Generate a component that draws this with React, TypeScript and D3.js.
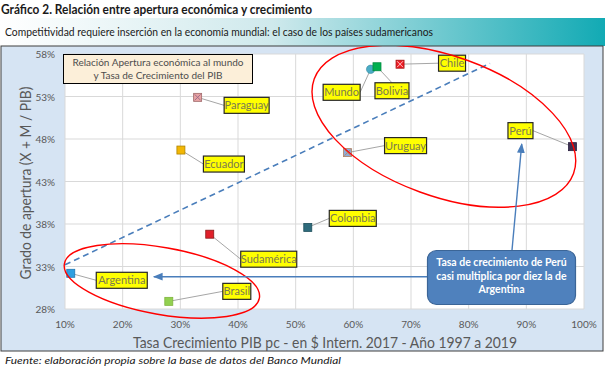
import React from 'react';
import * as d3 from 'd3';

// datos
const countries = ['Argentina', 'Brasil', 'Sudamérica', 'Colombia', 'Ecuador', 'Paraguay', 'Uruguay', 'Mundo', 'Bolivia', 'Chile', 'Perú'];
const growth = [11.0, 28.0, 35.1, 52.1, 30.1, 33.0, 59.0, 63.0, 64.1, 68.1, 98.0];
const openness = [32.2, 28.9, 36.8, 37.6, 46.7, 52.9, 46.4, 56.2, 56.5, 56.8, 47.1];
const xTicks = [10, 20, 30, 40, 50, 60, 70, 80, 90, 100];
const yTicks = [28, 33, 38, 43, 48, 53, 58];
const trendX = [10, 83.7];
const trendY = [33.2, 56.9];

// estilos de marcadores
const markerFill = ['#2f9fe0', '#92d050', '#e0202a', '#2e6b7c', '#f2b705', '#e8a3a3', '#8eaadb', '#4bacc6', '#00b050', '#ee1c25', '#3f3151'];
const markerStroke = ['#1f78b4', '#7fb43c', '#8b1a1a', '#1e4f5c', '#b08400', '#a06a6a', '#b08060', '#3a8ca0', '#008a3e', '#a01010', '#2a2040'];
// desplazamiento de etiquetas (px) desde el punto: dx, dy del centro, ancho
const labelDx = [51, 68, 59, 45, 43, 49, 58, -29, 15, 52, -52];
const labelDy = [7, -10, 25, -9, 14, 8, -7, 23, 24, -1, -16];
const labelW = [51, 28, 56, 47, 41, 45, 42, 37, 34, 27, 25];

const W = 605;
const H = 371;
const font = 'Lato, "Open Sans", sans-serif';

export default function App() {
  const x = d3.scaleLinear().domain([10, 100]).range([65, 584]);
  const y = d3.scaleLinear().domain([28, 58]).range([309, 54]);
  const trend = d3.line<number>().x((d) => x(trendX[d])).y((d) => y(trendY[d]));

  const labelH = 16;

  return (
    <svg width={W} height={H} style={{ position: 'absolute', left: 0, top: 0, background: '#fff' }} fontFamily={font}>
      <defs>
        <linearGradient id="banner" x1="0" x2="1" y1="0" y2="0">
          <stop offset="0%" stopColor="#ffffff" />
          <stop offset="45%" stopColor="#cfe9ec" />
          <stop offset="100%" stopColor="#12aab4" />
        </linearGradient>
        <marker id="arrow" viewBox="0 0 10 10" refX="9" refY="5" markerWidth="7" markerHeight="7" orient="auto-start-reverse">
          <path d="M0,1 L10,5 L0,9 z" fill="#4a7ebb" />
        </marker>
        <clipPath id="frameClip">
          <rect x={1} y={46} width={602} height={305} />
        </clipPath>
      </defs>

      {/* titulo */}
      <text x={1} y={14} fontSize={14} fontWeight="bold" fill="#1a1a1a" textLength={311} lengthAdjust="spacingAndGlyphs">
        Gráfico 2. Relación entre apertura económica y crecimiento
      </text>
      <rect x={0} y={18} width={605} height={28} fill="url(#banner)" />
      <text x={5} y={36} fontSize={11.5} fill="#1a1a1a" textLength={428} lengthAdjust="spacingAndGlyphs">
        Competitividad requiere inserción en la economía mundial: el caso de los países sudamericanos
      </text>

      {/* marco */}
      <rect x={1} y={46} width={602} height={305} fill="#d6e4f3" stroke="#3f3f3f" />

      {/* area de trazado */}
      <rect x={x(10)} y={y(58)} width={x(100) - x(10)} height={y(28) - y(58)} fill="#ffffff" />
      {xTicks.map((t) => (
        <line key={'gx' + t} x1={x(t)} x2={x(t)} y1={y(28)} y2={y(58)} stroke="#d9d9d9" />
      ))}
      {yTicks.map((t) => (
        <line key={'gy' + t} x1={x(10)} x2={x(100)} y1={y(t)} y2={y(t)} stroke="#d9d9d9" />
      ))}

      {/* ejes */}
      {xTicks.map((t) => (
        <text key={'tx' + t} x={x(t)} y={y(28) + 19} fontSize={10} fill="#595959" textAnchor="middle">
          {t}%
        </text>
      ))}
      {yTicks.map((t) => (
        <text key={'ty' + t} x={55} y={y(t) + 4} fontSize={10} fill="#595959" textAnchor="end">
          {t}%
        </text>
      ))}
      <text x={133} y={348} fontSize={15} fill="#595959" textLength={384} lengthAdjust="spacingAndGlyphs">
        Tasa Crecimiento PIB pc - en $ Intern. 2017 -  Año 1997 a 2019
      </text>
      <text transform="translate(31,183) rotate(-90)" fontSize={15} fill="#595959" textAnchor="middle" textLength={193} lengthAdjust="spacingAndGlyphs">
        Grado de apertura (X + M / PIB)
      </text>

      {/* cuadro de leyenda */}
      <rect x={63.5} y={54.5} width={189} height={29} fill="#fcefd9" stroke="#000" />
      <text x={158} y={66} fontSize={10} fill="#4d4d4d" textAnchor="middle">
        Relación Apertura económica al mundo
      </text>
      <text x={158} y={79} fontSize={10} fill="#4d4d4d" textAnchor="middle">
        y Tasa de Crecimiento del PIB
      </text>

      {/* linea de tendencia */}
      <path d={trend([0, 1]) || ''} fill="none" stroke="#4a7ebb" strokeWidth={1.6} strokeDasharray="6,4" />

      {/* lineas guia y etiquetas */}
      {countries.map((c, i) => {
        const px = x(growth[i]);
        const py = y(openness[i]);
        const cx = px + labelDx[i];
        const cy = py + labelDy[i];
        const w = labelW[i];
        const l = cx - w / 2;
        const r = cx + w / 2;
        const t = cy - labelH / 2;
        const b = cy + labelH / 2;
        let ax = cx;
        let ay = cy;
        if (px < l) ax = l;
        else if (px > r) ax = r;
        else ay = py < t ? t : b;
        return (
          <g key={'lab' + c}>
            <line x1={px} y1={py} x2={ax} y2={ay} stroke="#a6a6a6" strokeWidth={1} />
            <rect x={l} y={t} width={w} height={labelH} fill="#ffff00" stroke="#262626" strokeWidth={1.2} />
            <text x={cx} y={cy + 4} fontSize={11} fill="#7a7a50" textAnchor="middle">
              {c}
            </text>
          </g>
        );
      })}

      {/* marcadores */}
      {countries.map((c, i) => {
        const px = x(growth[i]);
        const py = y(openness[i]);
        if (c === 'Mundo') {
          return <circle key={'m' + c} cx={px} cy={py} r={4.2} fill={markerFill[i]} stroke={markerStroke[i]} strokeWidth={0.6} />;
        }
        const cross = c === 'Paraguay' || c === 'Uruguay' || c === 'Chile';
        return (
          <g key={'m' + c}>
            <rect x={px - 4} y={py - 4} width={8} height={8} fill={markerFill[i]} stroke={markerStroke[i]} strokeWidth={0.8} />
            {cross && (
              <path
                d={`M${px - 3},${py - 3}L${px + 3},${py + 3}M${px + 3},${py - 3}L${px - 3},${py + 3}`}
                stroke={c === 'Chile' ? '#ffd0d0' : c === 'Uruguay' ? '#c08850' : '#9a6a8a'}
                strokeWidth={0.9}
              />
            )}
          </g>
        );
      })}

      {/* elipses rojas */}
      <g clipPath="url(#frameClip)">
        <ellipse cx={x(75.7)} cy={y(49.5)} rx={138} ry={70} transform={`rotate(20 ${x(75.7)} ${y(49.5)})`} fill="none" stroke="#ff0000" strokeWidth={1.4} />
        <ellipse cx={x(26.8)} cy={y(31.3)} rx={99} ry={33.5} transform={`rotate(10 ${x(26.8)} ${y(31.3)})`} fill="none" stroke="#ff0000" strokeWidth={1.4} />
      </g>

      {/* flechas */}
      <line x1={428} y1={y(31.8)} x2={x(25.4)} y2={y(31.8)} stroke="#4a7ebb" strokeWidth={1.4} markerEnd="url(#arrow)" />
      <line x1={512} y1={250} x2={x(89.2)} y2={y(47.4)} stroke="#4a7ebb" strokeWidth={1.4} markerEnd="url(#arrow)" />

      {/* recuadro de comentario */}
      <rect x={427.5} y={250.5} width={148} height={54} rx={9} fill="#4f81bd" stroke="#3b6597" strokeWidth={1.2} />
      <text x={501.5} y={266} fontSize={10.5} fontWeight="bold" fill="#ffffff" textAnchor="middle">
        Tasa de crecimiento de Perú
      </text>
      <text x={501.5} y={280} fontSize={10.5} fontWeight="bold" fill="#ffffff" textAnchor="middle">
        casi multiplica por diez la de
      </text>
      <text x={501.5} y={293} fontSize={10.5} fontWeight="bold" fill="#ffffff" textAnchor="middle">
        Argentina
      </text>

      {/* fuente */}
      <text x={5} y={364} fontSize={10} fontStyle="italic" fill="#1a1a1a" textLength={336} lengthAdjust="spacingAndGlyphs">
        Fuente: elaboración propia sobre la base de datos del Banco Mundial
      </text>
    </svg>
  );
}
